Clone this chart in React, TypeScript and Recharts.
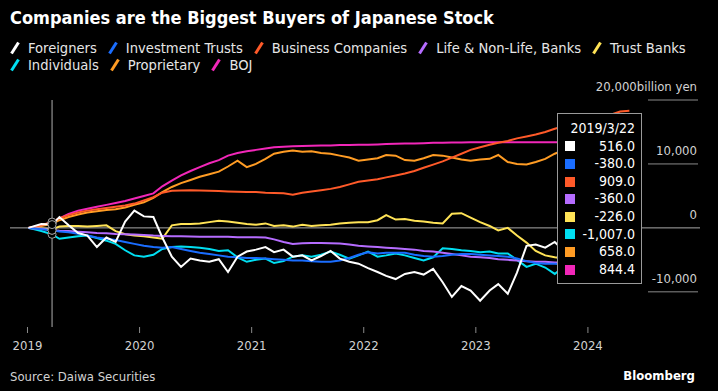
import React from "react";
import { LineChart, Line, XAxis, YAxis, Tooltip, Legend, ReferenceLine } from "recharts";

const FONT = '"DejaVu Sans Condensed", "Liberation Sans Narrow", "Roboto Condensed", "DejaVu Sans", sans-serif';

// one point per month, plus the 2019/3/22 reading shown in the tooltip
const DATES = [
  "2019/1/4", "2019/2/15", "2019/3/22", "2019/4/15", "2019/5/15", "2019/6/15", "2019/7/15", "2019/8/15", "2019/9/15", "2019/10/15", "2019/11/15", "2019/12/15",
  "2020/1/15", "2020/2/15", "2020/3/15", "2020/4/15", "2020/5/15", "2020/6/15", "2020/7/15", "2020/8/15", "2020/9/15", "2020/10/15", "2020/11/15", "2020/12/15",
  "2021/1/15", "2021/2/15", "2021/3/15", "2021/4/15", "2021/5/15", "2021/6/15", "2021/7/15", "2021/8/15", "2021/9/15", "2021/10/15", "2021/11/15", "2021/12/15",
  "2022/1/15", "2022/2/15", "2022/3/15", "2022/4/15", "2022/5/15", "2022/6/15", "2022/7/15", "2022/8/15", "2022/9/15", "2022/10/15", "2022/11/15", "2022/12/15",
  "2023/1/15", "2023/2/15", "2023/3/15", "2023/4/15", "2023/5/15", "2023/6/15", "2023/7/15", "2023/8/15", "2023/9/15", "2023/10/15", "2023/11/15", "2023/12/15",
  "2024/1/15", "2024/2/15", "2024/3/15", "2024/4/15", "2024/5/15",
];

// cumulative net buying, billion yen
const FOREIGNERS = [
  0, 600, 516, 1700, 400, -800, -1200, -3000, -1500, -2200, 1000, 2700,
  1800, 1700, -1500, -4500, -6100, -4800, -5100, -5300, -4900, -6900, -4500, -3700,
  -3400, -3000, -3800, -3400, -4500, -4300, -5100, -4400, -3600, -4800, -5300, -5600,
  -6300, -6900, -7500, -8000, -7200, -6900, -7300, -6400, -8500, -10800, -9100, -9800,
  -11400, -9800, -8800, -10300, -7000, -2800, -2600, -3100, -2200, -3600, -3200, -2800,
  -3000, -2600, -2900, -3100, -3000,
];
const INVESTMENT_TRUSTS = [
  0, -200, -380, -550, -700, -900, -1200, -1500, -1700, -1900, -2200, -2500,
  -2800, -3000, -3100, -3000, -3300, -3600, -3900, -4100, -4300, -4500, -4600, -4700,
  -4700, -4800, -4900, -5000, -5100, -5100, -5200, -5300, -5300, -5100, -4700, -4200,
  -3800, -4000, -3900, -3900, -3900, -4200, -4400, -4500, -4400, -4200, -4100, -4100,
  -4200, -4300, -4400, -4500, -4800, -5200, -5500, -5600, -5600, -5700, -5700, -5700,
  -5750, -5750, -5800, -5800, -5800,
];
const BUSINESS_COMPANIES = [
  0, 400, 909, 1500, 2000, 2400, 2700, 2900, 3100, 3300, 3500, 3800,
  4300, 4800, 5500, 5800, 5850, 5900, 5850, 5800, 5750, 5700, 5650, 5600,
  5600, 5500, 5450, 5400, 5200, 5500, 5700, 5900, 6100, 6400, 6800, 7200,
  7400, 7600, 7900, 8200, 8500, 8900, 9400, 9900, 10400, 11000, 11600, 12200,
  12600, 13000, 13300, 13600, 14000, 14300, 14600, 15000, 15500, 15900, 16300, 16700,
  17100, 17400, 17700, 18200, 18300,
];
const LIFE_BANKS = [
  0, -150, -360, -450, -500, -600, -700, -800, -850, -950, -1000, -1050,
  -1100, -1200, -1250, -1300, -1300, -1350, -1400, -1400, -1400, -1400, -1450, -1450,
  -1450, -1500, -1800, -2200, -2500, -2400, -2350, -2350, -2400, -2450, -2600, -2800,
  -2900, -3000, -3100, -3200, -3300, -3400, -3600, -3700, -3900, -4100, -4300, -4500,
  -4600, -4700, -4900, -5000, -5100, -5200, -5300, -5300, -5400, -5400, -5400, -5450,
  -5450, -5500, -5500, -5500, -5500,
];
const TRUST_BANKS = [
  0, -100, -226, 200, 300, 300, 200, 300, 400, -500, -1000, -1200,
  -1300, -1500, -1700, 400, 600, 600, 700, 900, 1100, 1000, 800, 600,
  500, 700, 300, 400, 200, 500, 300, 400, 500, 700, 800, 900,
  900, 1200, 2000, 1300, 1400, 1100, 1000, 800, 700, 2200, 2300, 1600,
  900, 300, -400, 0, -1200, -2300, -3600, -4300, -4600, -4800, -5000, -5100,
  -5200, -5200, -5300, -5300, -5300,
];
const INDIVIDUALS = [
  0, -500, -1007, -1700, -1500, -1300, -1200, -1600, -2000, -2500, -3500, -4300,
  -4500, -4200, -3300, -3000, -2900, -3000, -3100, -3300, -3600, -3500, -4600, -5300,
  -5000, -4800, -5500, -5200, -4500, -4300, -4500, -4200, -3700, -4200, -4800, -4300,
  -3700, -4500, -4300, -4000, -4300, -4700, -5100, -4600, -3200, -3300, -3500, -3600,
  -3800, -3700, -4000, -4000, -5000, -6100, -5600, -6200, -7200, -6000, -6300, -6500,
  -6400, -6600, -6800, -6700, -6900,
];
const PROPRIETARY = [
  0, 300, 658, 1200, 1700, 2100, 2400, 2600, 2800, 2900, 3200, 3600,
  4000, 4700, 5600, 6400, 7000, 7500, 8000, 8400, 8800, 9600, 10500, 9500,
  10000, 10800, 11600, 11900, 12100, 11900, 12000, 11700, 11600, 11300, 11000, 10500,
  10700, 10900, 11400, 11300, 10600, 10500, 10900, 11400, 11300, 11000, 10700, 10500,
  10700, 10800, 11400, 10300, 10000, 9900, 10300, 10800, 11600, 12200, 12500, 12300,
  12700, 12900, 12800, 13000, 13100,
];
const BOJ = [
  0, 400, 844.4, 1500, 2200, 2700, 3000, 3300, 3600, 3900, 4200, 4600,
  5000, 5400, 6500, 7400, 8200, 8900, 9500, 10100, 10600, 11300, 11700, 12000,
  12200, 12400, 12600, 12700, 12750, 12800, 12850, 12900, 12900, 12950, 12950, 13000,
  13000, 13050, 13100, 13150, 13200, 13200, 13250, 13300, 13300, 13350, 13350, 13400,
  13400, 13400, 13400, 13400, 13400, 13400, 13400, 13400, 13400, 13400, 13400, 13400,
  13400, 13400, 13400, 13400, 13400,
];

const YEAR_TICKS = [2019, 2020, 2021, 2022, 2023, 2024];
const VALUE_TICKS = [-10000, 0, 10000, 20000];

const SERIES = [
  { key: "foreigners", name: "Foreigners", color: "#ffffff", values: FOREIGNERS },
  { key: "investmentTrusts", name: "Investment Trusts", color: "#1a6dff", values: INVESTMENT_TRUSTS },
  { key: "businessCompanies", name: "Business Companies", color: "#ff5a29", values: BUSINESS_COMPANIES },
  { key: "lifeBanks", name: "Life & Non-Life, Banks", color: "#b56cff", values: LIFE_BANKS },
  { key: "trustBanks", name: "Trust Banks", color: "#ffe356", values: TRUST_BANKS },
  { key: "individuals", name: "Individuals", color: "#00dff2", values: INDIVIDUALS },
  { key: "proprietary", name: "Proprietary", color: "#ff9c24", values: PROPRIETARY },
  { key: "boj", name: "BOJ", color: "#f227b9", values: BOJ },
];

function toYear(date: string) {
  const [y, m, d] = date.split("/").map(Number);
  const start = Date.UTC(y, 0, 1);
  const day = (Date.UTC(y, m - 1, d) - start) / 86400000;
  return y + day / 365;
}

const data = DATES.map((date, i) => {
  const row: Record<string, number | string> = { date, t: toYear(date) };
  SERIES.forEach((s) => {
    row[s.key] = s.values[i];
  });
  return row;
});

const fmt = (v: number) =>
  v.toLocaleString("en-US", { minimumFractionDigits: 1, maximumFractionDigits: 1 });

function LegendContent() {
  return (
    <div style={{ display: "flex", flexWrap: "wrap", width: 690, fontFamily: FONT, fontSize: 14.6, color: "#e6e6e6", lineHeight: "17px" }}>
      {SERIES.map((s) => (
        <div key={s.key} style={{ display: "flex", alignItems: "center", marginRight: 11 }}>
          <svg width={10} height={14} style={{ marginRight: 8 }}>
            <line x1={1.5} y1={12.5} x2={8.5} y2={1.5} stroke={s.color} strokeWidth={3} />
          </svg>
          <span>{s.name}</span>
        </div>
      ))}
    </div>
  );
}

function TooltipBox(props: any) {
  const { payload } = props;
  if (!payload || !payload.length) return null;
  const row = payload[0].payload;
  return (
    <div
      style={{
        background: "#000",
        border: "1px solid #9a9a9a",
        width: 70,
        padding: "6px 6px 5px 7px",
        fontFamily: FONT,
        fontSize: 14,
        color: "#fff",
        lineHeight: "17.6px",
      }}
    >
      <div style={{ textAlign: "right" }}>{row.date}</div>
      {SERIES.map((s) => (
        <div key={s.key} style={{ display: "flex", alignItems: "center", justifyContent: "space-between" }}>
          <span style={{ width: 10, height: 10, background: s.color, display: "inline-block" }} />
          <span>{fmt(row[s.key])}</span>
        </div>
      ))}
    </div>
  );
}

function ValueTick(props: any) {
  const { x, y, payload } = props;
  const label = payload.value === 20000 ? "20,000billion yen" : payload.value.toLocaleString("en-US");
  return (
    <g>
      {payload.value !== 0 && <line x1={x - 52} x2={x - 2} y1={y} y2={y} stroke="#8a8a8a" strokeWidth={1} />}
      <text x={x - 3} y={y - 9} textAnchor="end" fill="#d2d2d2" fontSize={13} fontFamily={FONT}>
        {label}
      </text>
    </g>
  );
}

export default function App() {
  return (
    <div style={{ position: "absolute", left: 0, top: 0, width: 718, height: 391, background: "#000", overflow: "hidden" }}>
      <div style={{ position: "absolute", left: 10, top: 7, color: "#fff", fontFamily: FONT, fontWeight: "bold", fontSize: 18 }}>
        Companies are the Biggest Buyers of Japanese Stock
      </div>
      <LineChart width={718} height={391} data={data} margin={{ top: 100, right: 0, bottom: 40, left: 10 }}>
        <XAxis
          type="number"
          dataKey="t"
          domain={[2018.844, 2025]}
          ticks={YEAR_TICKS}
          tickFormatter={(v) => String(v)}
          axisLine={false}
          tickLine={{ stroke: "#8a8a8a" }}
          tickSize={6}
          tickMargin={8}
          height={24}
          tick={{ fill: "#d2d2d2", fontSize: 13, fontFamily: FONT }}
        />
        <YAxis
          orientation="right"
          domain={[-15500, 20000]}
          ticks={VALUE_TICKS}
          axisLine={false}
          tickLine={false}
          tickSize={0}
          tickMargin={0}
          width={18}
          tick={<ValueTick />}
        />
        <ReferenceLine y={0} stroke="#a8a8a8" strokeWidth={1} />
        <Legend
          layout="horizontal"
          verticalAlign="middle"
          align="center"
          content={<LegendContent />}
          wrapperStyle={{ top: 39, left: 10, width: 690 }}
        />
        <Tooltip
          defaultIndex={2}
          active
          position={{ x: 557, y: 113 }}
          cursor={{ stroke: "#b0b0b0", strokeWidth: 1 }}
          content={<TooltipBox />}
          isAnimationActive={false}
          wrapperStyle={{ outline: "none", zIndex: 5 }}
        />
        {[...SERIES].reverse().map((s) => (
          <Line
            key={s.key}
            dataKey={s.key}
            name={s.name}
            type="linear"
            stroke={s.color}
            strokeWidth={2}
            dot={false}
            activeDot={{ r: 4, fill: "#000", stroke: "#a0a0a0", strokeWidth: 1 }}
            isAnimationActive={false}
          />
        ))}
      </LineChart>
      <div style={{ position: "absolute", left: 10, top: 369, color: "#d2d2d2", fontFamily: FONT, fontSize: 13 }}>
        Source: Daiwa Securities
      </div>
      <div style={{ position: "absolute", right: 23, top: 368, color: "#fff", fontFamily: FONT, fontWeight: "bold", fontSize: 13 }}>
        Bloomberg
      </div>
    </div>
  );
}
